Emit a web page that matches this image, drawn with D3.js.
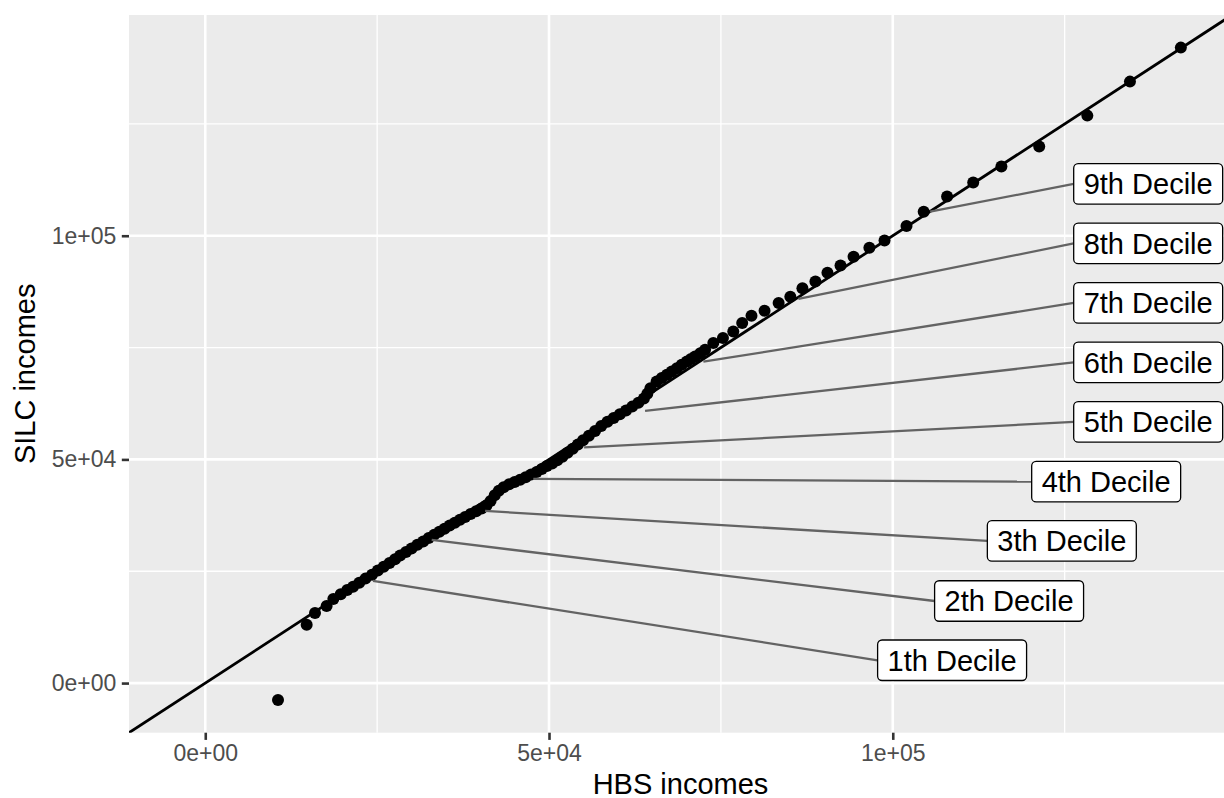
<!DOCTYPE html>
<html>
  <head>
    <title>HBS vs SILC incomes</title>
    <style>
      body {
        margin: 0;
        padding: 0;
        overflow: hidden;
        background: #ffffff;
      }
      svg {
        display: block;
        font-family: "Liberation Sans", Arial, sans-serif;
      }
    </style>
    <script src="https://unpkg.com/d3@7.8.5/dist/d3.min.js"></script>
  </head>
  <body>
    <svg width="1224" height="798"></svg>
    <script>
      // Quantile points (HBS on x, SILC on y)
      const hbs = [
        10580, 14750, 15960, 17650, 18630, 19700, 20650, 21500, 22400, 23300, 24250,
        25100, 25950, 26800, 27600, 28350, 29200, 30000, 30850, 31700, 32500,
        33300, 34050, 34800, 35550, 36300, 37050, 37800, 38600, 39400, 40200,
        40900, 41500, 42100, 42700, 43400, 44200, 45000, 45800, 46600, 47400,
        48200, 48950, 49700, 50450, 51200, 51950, 52700, 53450, 54200, 54950,
        55800, 56700, 57600, 58500, 59400, 60300, 61200, 62100, 63000, 63800,
        64300, 64750, 65650, 66400, 67150, 67850, 68600, 69300, 70050, 70650, 71250, 72000,
        72700, 73900, 75300, 76800, 78100, 79450, 81350, 83400, 85100,
        86860, 88750, 90500, 92400, 94300, 96600, 98800, 102000, 104500,
        107900, 111700, 115800, 121300, 128300, 134500, 141900
      ];
      const silc = [
        -3800, 13030, 15650, 17210, 18780, 19850, 20800, 21550, 22450, 23350, 24200,
        25150, 26000, 26850, 27700, 28500, 29300, 30100, 30900, 31650, 32450,
        33150, 33850, 34500, 35200, 35850, 36500, 37150, 37800, 38400, 39000,
        39700, 40700, 42000, 43000, 43800, 44450, 44950, 45450, 46000, 46600,
        47200, 47850, 48500, 49100, 49800, 50600, 51500, 52400, 53350, 54300,
        55300, 56350, 57450, 58400, 59250, 60100, 60950, 61800, 62650, 63600,
        64700, 65900, 67400, 68200, 68900, 69650, 70400, 71150, 71900, 72450, 73000, 73750,
        74500, 76000, 77150, 78600, 80500, 82100, 83250, 84950, 86350,
        88280, 89780, 91700, 93350, 95300, 97300, 98950, 102200, 105350,
        108750, 111900, 115450, 119950, 126850, 134450, 142050
      ];

      // Deciles and where their labels were placed (data units)
      const decileNames = ['1th Decile', '2th Decile', '3th Decile', '4th Decile', '5th Decile',
                           '6th Decile', '7th Decile', '8th Decile', '9th Decile'];
      const decileHbs  = [24400, 32940, 40700, 47720, 55100, 63970, 72450, 86270, 105430];
      const decileSilc = [22830, 31990, 38480, 45630, 52670, 60830, 71850, 85870, 105390];
      const labelHbs  = [108630, 116920, 124590, 131040, 137150, 137150, 137150, 137150, 137150];
      const labelSilc = [5100, 18350, 31770, 45030, 58370, 71680, 84980, 98280, 111580];

      const majorTicks = [0, 50000, 100000];
      const minorTicks = [25000, 75000, 125000];
      const tickFormat = d => d === 0 ? '0e+00' : d3.format('.0e')(d).replace(/e\+(\d)$/, 'e+0$1');

      const svg = d3.select('svg');
      const panel = { left: 129, top: 15, right: 1232, bottom: 732.7 };

      // ggplot-like 5% expansion around both variables
      const ext = d3.extent(hbs.concat(silc));
      const pad = (ext[1] - ext[0]) * 0.05;
      const dom = [ext[0] - pad, ext[1] + pad];

      const x = d3.scaleLinear().domain(dom).range([panel.left, panel.right]);
      const y = d3.scaleLinear().domain(dom).range([panel.bottom, panel.top]);

      svg.append('rect').attr('width', 1224).attr('height', 798).attr('fill', '#ffffff');

      svg.append('clipPath').attr('id', 'clip')
        .append('rect')
        .attr('x', panel.left).attr('y', panel.top)
        .attr('width', panel.right - panel.left)
        .attr('height', panel.bottom - panel.top);

      svg.append('rect')
        .attr('x', panel.left).attr('y', panel.top)
        .attr('width', panel.right - panel.left)
        .attr('height', panel.bottom - panel.top)
        .attr('fill', '#ebebeb');

      const grid = svg.append('g');
      grid.selectAll('.vmin').data(minorTicks).enter().append('line')
        .attr('x1', d => x(d)).attr('x2', d => x(d))
        .attr('y1', panel.top).attr('y2', panel.bottom)
        .attr('stroke', '#fff').attr('stroke-width', 1.3);
      grid.selectAll('.hmin').data(minorTicks).enter().append('line')
        .attr('y1', d => y(d)).attr('y2', d => y(d))
        .attr('x1', panel.left).attr('x2', panel.right)
        .attr('stroke', '#fff').attr('stroke-width', 1.3);
      grid.selectAll('.vmaj').data(majorTicks).enter().append('line')
        .attr('x1', d => x(d)).attr('x2', d => x(d))
        .attr('y1', panel.top).attr('y2', panel.bottom)
        .attr('stroke', '#fff').attr('stroke-width', 2.6);
      grid.selectAll('.hmaj').data(majorTicks).enter().append('line')
        .attr('y1', d => y(d)).attr('y2', d => y(d))
        .attr('x1', panel.left).attr('x2', panel.right)
        .attr('stroke', '#fff').attr('stroke-width', 2.6);

      // Axes
      const xAxis = d3.axisBottom(x).tickValues(majorTicks).tickFormat(tickFormat)
        .tickSize(7.2).tickPadding(4);
      const yAxis = d3.axisLeft(y).tickValues(majorTicks).tickFormat(tickFormat)
        .tickSize(7.2).tickPadding(5.5);

      const gx = svg.append('g').attr('transform', `translate(0,${panel.bottom})`).call(xAxis);
      const gy = svg.append('g').attr('transform', `translate(${panel.left},0)`).call(yAxis);
      [gx, gy].forEach(g => {
        g.select('.domain').remove();
        g.selectAll('.tick line').attr('stroke', '#333333').attr('stroke-width', 2.6);
        g.selectAll('.tick text')
          .attr('fill', '#4d4d4d')
          .style('font-size', '23px')
          .style('font-family', '"Liberation Sans", Arial, sans-serif');
      });
      gx.selectAll('.tick text').attr('dy', '0.71em').attr('y', 12);

      // Reference line y = x
      const plot = svg.append('g').attr('clip-path', 'url(#clip)');
      plot.append('line')
        .attr('x1', x(dom[0])).attr('y1', y(dom[0]))
        .attr('x2', x(dom[1])).attr('y2', y(dom[1]))
        .attr('stroke', '#000').attr('stroke-width', 2.8);

      // Points
      plot.selectAll('circle.pt')
        .data(d3.range(hbs.length))
        .enter()
        .append('circle')
        .attr('class', 'pt')
        .attr('cx', i => x(hbs[i]))
        .attr('cy', i => y(silc[i]))
        .attr('r', 6)
        .attr('fill', '#000');

      // Decile labels
      const labels = svg.append('g');
      decileNames.forEach((name, i) => {
        const cx = x(labelHbs[i]);
        const cy = y(labelSilc[i]);
        const g = labels.append('g');
        const seg = g.append('line')
          .attr('x1', x(decileHbs[i])).attr('y1', y(decileSilc[i]))
          .attr('stroke', '#636363').attr('stroke-width', 2.3);
        const box = g.append('rect');
        const t = g.append('text')
          .attr('x', cx).attr('y', cy + 10.4)
          .attr('text-anchor', 'middle')
          .style('font-size', '29px')
          .attr('fill', '#000')
          .text(name);
        const w = t.node().getComputedTextLength() + 20;
        const h = 40.5;
        box.attr('x', cx - w / 2).attr('y', cy - h / 2)
          .attr('width', w).attr('height', h)
          .attr('rx', 4.5).attr('ry', 4.5)
          .attr('fill', '#fff').attr('stroke', '#000').attr('stroke-width', 1.3);
        seg.attr('x2', cx - w / 2).attr('y2', cy);
      });

      // Axis titles
      svg.append('text')
        .attr('x', (panel.left + panel.right) / 2)
        .attr('y', 793.5)
        .attr('text-anchor', 'middle')
        .style('font-size', '29px')
        .text('HBS incomes');

      svg.append('text')
        .attr('transform', `translate(35,${(panel.top + panel.bottom) / 2}) rotate(-90)`)
        .attr('text-anchor', 'middle')
        .style('font-size', '29px')
        .text('SILC incomes');
    </script>
  </body>
</html>
